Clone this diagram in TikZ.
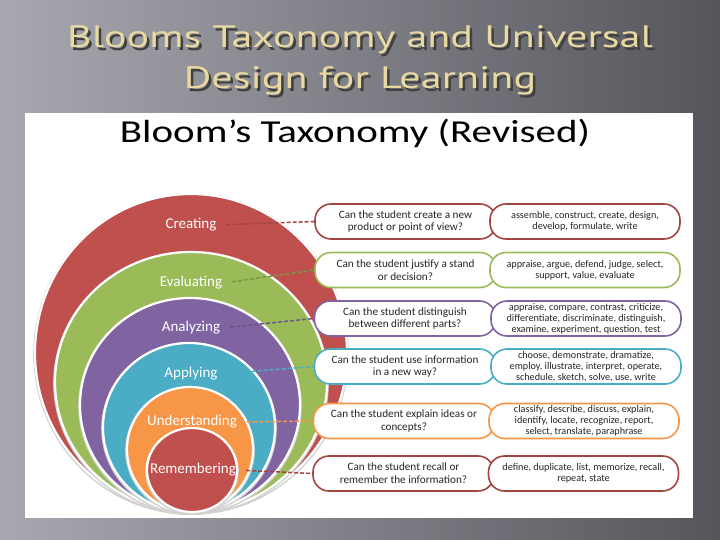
\documentclass[tikz,border=0pt]{standalone}
\usepackage{fontspec}
\setmainfont{Carlito}
\newfontfamily\titlefont{PT Sans}
\usetikzlibrary{shapes.misc}
\definecolor{bred}{HTML}{C0504D}
\definecolor{bgreen}{HTML}{9BBB59}
\definecolor{bpurple}{HTML}{8064A2}
\definecolor{bblue}{HTML}{4BACC6}
\definecolor{borange}{HTML}{F79646}
\definecolor{titlecol}{HTML}{E8D9A2}
\definecolor{bgdark}{HTML}{55555C}
\definecolor{bglight}{HTML}{A8A8B0}
\definecolor{txt}{HTML}{262626}
\newcommand{\wide}[2]{\scalebox{#1}[1]{#2}}
\tikzset{
  lvl/.style={line width=2.2pt, draw=white},
  lvlshadow/.style={line width=3.6pt, draw=black!18},
  lbl/.style={text=white, font=\fontsize{15}{17}\selectfont, inner sep=1pt},
  qbox/.style={draw=#1, line width=1.6pt, fill=white, rounded corners=16pt,
    minimum width=181pt, minimum height=35pt, align=center, inner sep=1pt,
    text=txt, font=\fontsize{11.2}{12.8}\selectfont},
  vbox/.style={draw=#1, line width=1.6pt, fill=white, rounded corners=16pt,
    minimum width=190pt, minimum height=35pt, align=center, inner sep=1pt,
    text=txt, font=\fontsize{10.2}{11}\selectfont},
  conn/.style={draw=#1, line width=1.5pt, dash pattern=on 4pt off 2pt, shorten <=9pt},
  ttl/.style={font=\titlefont\fontsize{31}{33}\selectfont, inner sep=0pt, anchor=base}
}
\begin{document}
\begin{tikzpicture}[x=1pt,y=-1pt]
\useasboundingbox (0,0) rectangle (720,540);
\shade[shading angle=-60, left color=bglight, right color=bgdark] (0,0) rectangle (720,540);
% title shadow
\node (s1) [ttl, text=black!75] at (362.5,50.5) {\wide{1.36}{Blooms Taxonomy and Universal}};
\node (s2) [ttl, text=black!75] at (362.5,91.5) {\wide{1.36}{Design for Learning}};
% title
\node (t1) [ttl, text=titlecol] at (360,48) {\wide{1.36}{Blooms Taxonomy and Universal}};
\node (t2) [ttl, text=titlecol] at (360,89) {\wide{1.36}{Design for Learning}};
% panel
\fill[white] (25,113) rectangle (693,518);
\node (head) [font=\fontsize{32}{34}\selectfont, text=black, inner sep=0pt, anchor=base] at (355,143) {\wide{1.28}{Bloom’s Taxonomy (Revised)}};
% circles
\foreach \cx/\cy/\rx/\ry/\col in {191/353/156/159/bred, 191/382/136/130/bgreen, 190/405/110/107/bpurple, 189/427.5/86/84.5/bblue, 190/449.5/63/62.5/borange, 192/470/45/42/bred}{
  \path[lvlshadow] (\cx,\cy+1) ellipse [x radius=\rx, y radius=\ry];
  \path[lvl, fill=\col] (\cx,\cy) ellipse [x radius=\rx, y radius=\ry];
}
% labels
\node (l1) [lbl] at (191,225) {Creating};
\node (l2) [lbl] at (191,283) {Evaluating};
\node (l3) [lbl] at (191,328) {Analyzing};
\node (l4) [lbl] at (191,374) {Applying};
\node (l5) [lbl] at (192,422) {Understanding};
\node (l6) [lbl] at (193,470) {Remembering};
% boxes
\node (q1) [qbox=bred!85!black] at (405.5,221.5) {Can the student create a new\\product or point of view?};
\node (v1) [vbox=bred!85!black] at (585,221.5) {assemble, construct, create, design,\\develop, formulate, write};
\node (q2) [qbox=bgreen] at (405.5,270) {Can the student justify a stand\\or decision?};
\node (v2) [vbox=bgreen] at (585,270) {appraise, argue, defend, judge, select,\\support, value, evaluate};
\node (q3) [qbox=bpurple] at (405,318.5) {Can the student distinguish\\between different parts?};
\node (v3) [vbox=bpurple] at (586,318.5) {appraise, compare, contrast, criticize,\\differentiate, discriminate, distinguish,\\examine, experiment, question, test};
\node (q4) [qbox=bblue] at (405,366.5) {Can the student use information\\in a new way?};
\node (v4) [vbox=bblue] at (586,366.5) {choose, demonstrate, dramatize,\\employ, illustrate, interpret, operate,\\schedule, sketch, solve, use, write};
\node (q5) [qbox=borange] at (404,421) {Can the student explain ideas or\\concepts?};
\node (v5) [vbox=borange] at (584,421) {classify, describe, discuss, explain,\\identify, locate, recognize, report,\\select, translate, paraphrase};
\node (q6) [qbox=bred!85!black] at (403.5,473.5) {Can the student recall or\\remember the information?};
\node (v6) [vbox=bred!85!black] at (583.5,473.5) {define, duplicate, list, memorize, recall,\\repeat, state};
% connectors
\draw[conn=bred!85!black] (l1.east) -- (q1.west);
\draw[conn=bgreen!80!black] (l2.east) -- (q2.west);
\draw[conn=bpurple!85!black] (l3.east) -- (q3.west);
\draw[conn=bblue] (l4.east) -- (q4.west);
\draw[conn=borange] (l5.east) -- (q5.west);
\draw[conn=bred!85!black] (l6.east) -- (q6.west);
\end{tikzpicture}
\end{document}
